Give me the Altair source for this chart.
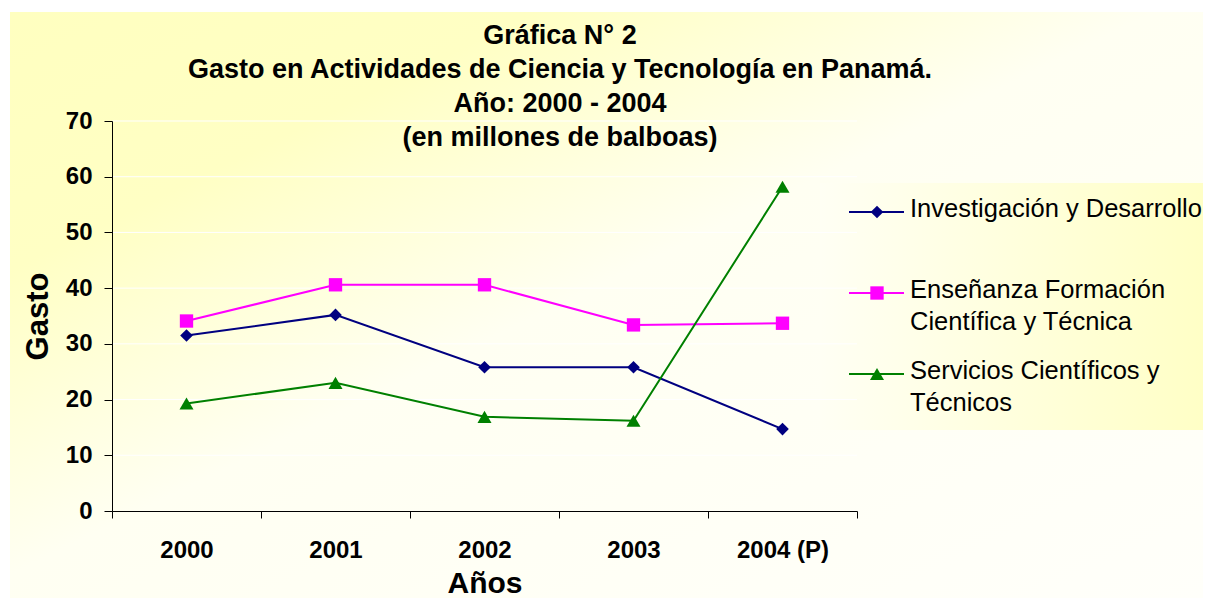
import altair as alt
import pandas as pd

# ---------------- data ----------------
years = ["2000", "2001", "2002", "2003", "2004 (P)"]
series = [
    "Investigación y Desarrollo",
    "Enseñanza Formación Científica y Técnica",
    "Servicios Científicos y Técnicos",
]
legend_labels = [
    "Investigación y Desarrollo",
    "Enseñanza Formación\nCientífica y Técnica",
    "Servicios Científicos y\nTécnicos",
]
inv_desarrollo = [31.5, 35.2, 25.8, 25.8, 14.7]
ensenanza = [34.1, 40.6, 40.6, 33.4, 33.7]
servicios = [19.3, 23.0, 16.9, 16.2, 58.2]
y_ticks = [0, 10, 20, 30, 40, 50, 60, 70]
title_lines = [
    "Gráfica N° 2",
    "Gasto en Actividades de Ciencia y Tecnología en Panamá.",
    "Año: 2000 - 2004",
    "(en millones de balboas)",
]
colors = ["#000080", "#FF00FF", "#008000"]
shapes = ["diamond", "square", "triangle-up"]
sizes = [160, 196, 180]

rows = []
for name, vals in zip(series, [inv_desarrollo, ensenanza, servicios]):
    for yr, v in zip(years, vals):
        rows.append({"anio": yr, "serie": name, "valor": v})
df = pd.DataFrame(rows)
leg_df = pd.DataFrame({"serie": series, "label": legend_labels})
grid_df = pd.DataFrame({"valor": y_ticks[1:]})

FONT = "Liberation Sans"
W, H = 745, 390

color_scale = alt.Scale(domain=series, range=colors)
shape_scale = alt.Scale(domain=series, range=shapes)
size_scale = alt.Scale(domain=series, range=sizes)
y_scale = alt.Scale(domain=[0, 70], nice=False)

x_enc = alt.X(
    "anio:N",
    sort=years,
    scale=alt.Scale(type="band", domain=years, paddingInner=0, paddingOuter=0),
    axis=alt.Axis(
        title="Años", tickBand="extent", labelAngle=0, zindex=1,
        labelFont=FONT, labelFontSize=24, labelFontWeight="bold", labelColor="black",
        labelPadding=20, tickSize=7, tickColor="black", domainColor="black",
        titleFont=FONT, titleFontSize=30, titleFontWeight="bold", titleColor="black",
        titleY=72, titleBaseline="middle", grid=False,
    ),
)
y_enc = alt.Y(
    "valor:Q",
    scale=y_scale,
    axis=alt.Axis(
        title="Gasto", values=y_ticks, grid=False, zindex=1,
        labelFont=FONT, labelFontSize=24, labelFontWeight="bold", labelColor="black",
        labelPadding=12, tickSize=8, tickColor="black", domainColor="black",
        titleFont=FONT, titleFontSize=31, titleFontWeight="bold", titleColor="black",
        titleAngle=270, titleX=-74, titleY=195, titleBaseline="middle", titleAlign="center",
    ),
)

one = pd.DataFrame({"k": [0]})
bg = alt.Chart(one).mark_rect(
    color=alt.LinearGradient(
        gradient="linear", x1=0, y1=0, x2=1, y2=1,
        stops=[
            alt.GradientStop(offset=0, color="#FFFFC0"),
            alt.GradientStop(offset=0.22, color="#FFFFC4"),
            alt.GradientStop(offset=0.48, color="#FFFFF2"),
            alt.GradientStop(offset=1, color="#FFFFFA"),
        ],
    )
).encode(x=alt.value(-102), x2=alt.value(1091), y=alt.value(-109), y2=alt.value(477))

legbox = alt.Chart(one).mark_rect(
    color=alt.LinearGradient(
        gradient="linear", x1=0, y1=0.5, x2=1, y2=0.5,
        stops=[
            alt.GradientStop(offset=0, color="#FFFFF4"),
            alt.GradientStop(offset=1, color="#FFFFC6"),
        ],
    )
).encode(x=alt.value(708), x2=alt.value(1091), y=alt.value(62), y2=alt.value(309))

grid = alt.Chart(grid_df).mark_rule(color="white", strokeWidth=1).encode(
    y=y_enc,
    x=alt.value(0), x2=alt.value(W),
)

lines = alt.Chart(df).mark_line(strokeWidth=2).encode(
    x=x_enc, y=y_enc,
    color=alt.Color("serie:N", scale=color_scale, legend=None),
    detail="serie:N",
)
points = alt.Chart(df).mark_point(filled=True, opacity=1).encode(
    x=x_enc, y=y_enc,
    color=alt.Color("serie:N", scale=color_scale, legend=None),
    shape=alt.Shape("serie:N", scale=shape_scale, legend=None),
    size=alt.Size("serie:N", scale=size_scale, legend=None),
)

main = alt.layer(bg, legbox, grid, lines, points)

leg_y = alt.Y("serie:N", scale=alt.Scale(type="point", domain=series, range=[91, 253], padding=0), axis=None)
leg_rule = alt.Chart(leg_df).mark_rule(strokeWidth=2).encode(
    x=alt.value(737), x2=alt.value(792), y=leg_y,
    color=alt.Color("serie:N", scale=color_scale, legend=None),
)
leg_point = alt.Chart(leg_df).mark_point(filled=True, opacity=1).encode(
    x=alt.value(765), y=leg_y,
    color=alt.Color("serie:N", scale=color_scale, legend=None),
    shape=alt.Shape("serie:N", scale=shape_scale, legend=None),
    size=alt.Size("serie:N", scale=size_scale, legend=None),
)
leg_text = alt.Chart(leg_df).mark_text(
    align="left", baseline="alphabetic", dy=5, font=FONT, fontSize=25.5,
    lineBreak="\n", lineHeight=32, color="black",
).encode(x=alt.value(798), y=leg_y, text="label:N")

legend = alt.layer(leg_rule, leg_point, leg_text)

chart = (
    alt.layer(main, legend)
    .resolve_scale(y="independent")
    .properties(
        width=W, height=H,
        padding={"left": 2, "top": 4, "right": 0, "bottom": 0},
        title=alt.TitleParams(
            text=title_lines, font=FONT, fontSize=27, fontWeight="bold", color="black",
            anchor="middle", frame="group", dx=75.5, offset=-140, lineHeight=34,
        ),
    )
    .configure_view(stroke="transparent")
)

chart.save("out.html", embed_options={"renderer": "svg", "actions": False})
